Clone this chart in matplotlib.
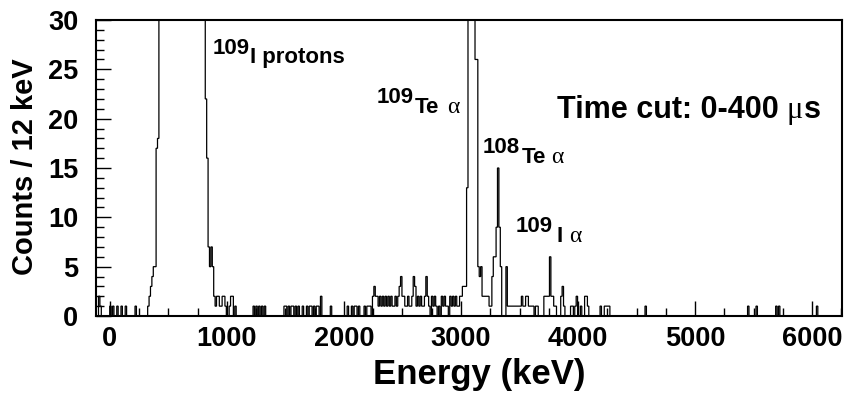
import numpy as np
import matplotlib
matplotlib.use('Agg')
import matplotlib.pyplot as plt
from matplotlib.ticker import MultipleLocator

plt.rcParams['font.family'] = ['Liberation Sans', 'DejaVu Sans']
plt.rcParams['font.weight'] = 'bold'

# histogram binning (keV)
e_min, e_max, bin_width = -120, 6252, 12

# 109I proton peak, bins from 420 keV (runs off the top of the frame)
proton_start = 420
proton_counts = [34, 41, 47, 52, 58, 63, 67, 70, 74, 78, 80, 83, 85, 88, 90, 92, 95,
                 97, 99, 102, 104, 107, 110, 113, 115, 118, 121, 124, 126, 128, 118, 84, 41]

# 109Te alpha peak, bins from 3060 keV (off scale)
te109_start = 3060
te109_counts = [52, 140, 196, 150, 71]

# every other non-empty bin: lower bin edge (keV) and counts
bin_low = [-96, -84, 0, 24, 60, 96, 132, 216,
           324, 336, 348, 360, 372, 384, 396, 408,
           816, 828, 840, 852, 864, 876, 888, 900, 912, 924, 936, 948, 960, 972, 984,
           1020, 1032, 1044, 1068,
           1224, 1248, 1272, 1296, 1320,
           1488, 1500, 1524, 1548, 1560, 1584, 1608, 1644, 1680, 1704, 1716, 1740,
           1764, 1776, 1800, 1884,
           2028, 2064, 2088, 2100, 2124, 2172, 2196, 2208, 2220, 2244, 2256, 2268,
           2280, 2292, 2304, 2316, 2328, 2340, 2352, 2364, 2376, 2388, 2400, 2412,
           2424, 2436, 2448, 2460, 2472, 2484, 2496, 2508, 2520, 2532, 2544, 2556,
           2568, 2580, 2592, 2604, 2616, 2628, 2640, 2652, 2664, 2676, 2688, 2700,
           2712, 2724, 2748, 2760, 2772, 2784, 2808, 2832, 2844, 2856, 2868, 2880,
           2904, 2916, 2928, 2940, 2952, 2964, 2976, 2988, 3000, 3012, 3024, 3036,
           3048,
           3120, 3132, 3144, 3156, 3168, 3180, 3192, 3204, 3216, 3228, 3240, 3252,
           3264, 3276, 3288, 3300, 3312, 3324, 3336, 3384,
           3396, 3408, 3420, 3432, 3444, 3456, 3468, 3480, 3492, 3504, 3516, 3528,
           3540, 3552, 3564, 3576, 3588, 3600, 3612, 3636, 3648,
           3708, 3720, 3732, 3744, 3756, 3768, 3780, 3792, 3804, 3852, 3864, 3876,
           3936, 3948, 3972, 3984, 4020, 4056, 4068, 4080,
           4188, 4224, 4236, 4248, 4260, 4572, 5448, 5520, 5688, 5712, 6036]
bin_counts = [2, 1, 1, 1, 1, 1, 1, 1,
              1, 2, 3, 4, 5, 5, 17, 18,
              22, 16, 7, 5, 7, 5, 2, 1, 2, 2, 1, 1, 2, 2, 1,
              1, 2, 2, 1,
              1, 1, 1, 1, 1,
              1, 1, 1, 1, 1, 1, 1, 1, 1, 1, 1, 1,
              1, 1, 2, 1,
              1, 1, 1, 1, 1, 1, 1, 1, 1, 2, 3, 2,
              2, 1, 2, 1, 2, 1, 2, 1, 2, 1, 2, 1,
              1, 2, 1, 2, 3, 4, 2, 2, 1, 1, 2, 1,
              1, 2, 4, 3, 1, 2, 1, 2, 1, 1, 2, 4,
              2, 1, 2, 1, 2, 1, 1, 2, 1, 2, 1, 1,
              2, 1, 2, 1, 2, 1, 1, 2, 2, 3, 3, 3,
              13,
              26, 26, 5, 4, 5, 2, 2, 2, 2, 2, 1, 1,
              4, 6, 6, 9, 15, 9, 5, 5,
              1, 1, 1, 1, 1, 1, 1, 1, 1, 1, 2, 1,
              1, 2, 2, 1, 1, 1, 1, 1, 1,
              2, 2, 2, 2, 6, 2, 2, 1, 1, 2, 3, 1,
              1, 1, 1, 2, 1, 2, 2, 1,
              1, 1, 1, 1, 1, 1, 1, 1, 1, 1, 1]

edges = np.arange(e_min, e_max + bin_width, bin_width)
counts = np.zeros(len(edges) - 1)


def bin_index(e):
    return int(round((e - e_min) / bin_width))


for e, c in zip(bin_low, bin_counts):
    counts[bin_index(e)] = c
for i, c in enumerate(proton_counts):
    counts[bin_index(proton_start) + i] = c
for i, c in enumerate(te109_counts):
    counts[bin_index(te109_start) + i] = c

fig = plt.figure(figsize=(8.49, 3.96), dpi=100)
ax = fig.add_axes([0.1127, 0.202, 0.8787, 0.7475])
ax.stairs(counts, edges, color='black', linewidth=0.9)
ax.set_xlim(e_min, e_max)
ax.set_ylim(0, 30)

ax.xaxis.set_major_locator(MultipleLocator(1000))
ax.xaxis.set_minor_locator(MultipleLocator(250))
ax.yaxis.set_major_locator(MultipleLocator(5))
ax.yaxis.set_minor_locator(MultipleLocator(1))
ax.tick_params(which='both', direction='in', top=False, right=False, width=1, labelsize=19.5)
ax.tick_params(which='major', length=10.5)
ax.tick_params(which='minor', length=5.5)
ax.tick_params(axis='x', pad=7)
ax.tick_params(axis='y', pad=12.5)
for s in ax.spines.values():
    s.set_linewidth(1.5)

ax.set_xlabel('Energy (keV)', fontsize=25, fontweight='bold')
ax.xaxis.set_label_coords(0.514, -0.142)
ax.set_ylabel('Counts / 12 keV', fontsize=21, fontweight='bold')
ax.yaxis.set_label_coords(-0.076, 0.503)

# peak labels: mass number raised, element name below it
lab = dict(fontsize=16, fontweight='bold', va='baseline')
greek = dict(fontsize=17, fontweight='normal', family='Liberation Serif', va='baseline')
ax.text(1194, 26.52, '109', ha='right', **lab)
ax.text(1201, 25.61, 'I protons', ha='left', **lab)
ax.text(2601, 21.56, '109', ha='right', **lab)
ax.text(2609, 20.54, 'Te', ha='left', **lab)
ax.text(2881, 20.54, '\u03b1', ha='left', **greek)
ax.text(3505, 16.49, '108', ha='right', **lab)
ax.text(3515, 15.48, 'Te', ha='left', **lab)
ax.text(3771, 15.48, '\u03b1', ha='left', **greek)
ax.text(3785, 8.54, '109', ha='right', **lab)
ax.text(3819, 7.53, 'I', ha='left', **lab)
ax.text(3928, 7.53, '\u03b1', ha='left', **greek)

# time cut note, mu in a plain serif face like the original
cut = ax.text(3817, 20.07, 'Time cut: 0-400', ha='left', va='baseline', fontsize=22, fontweight='bold')
mu = ax.annotate('\u03bc', xy=(1, 0), xycoords=cut, xytext=(6, 0), textcoords='offset points',
                 ha='left', va='bottom', fontsize=22, fontweight='normal', family='Liberation Serif')
ax.annotate('s', xy=(1, 0), xycoords=mu, xytext=(0.5, 0), textcoords='offset points',
            ha='left', va='bottom', fontsize=22, fontweight='bold')

fig.savefig('out.png', dpi=100)
